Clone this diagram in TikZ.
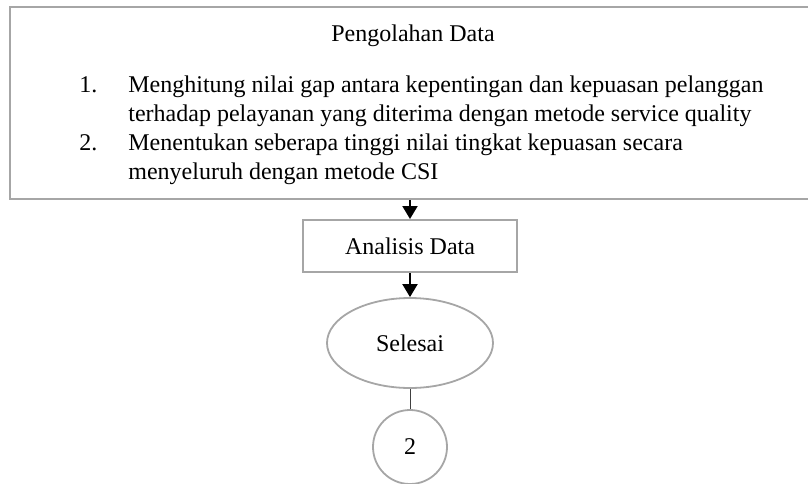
\documentclass[tikz,border=0pt]{standalone}
\usepackage{fontspec}
\setmainfont{Liberation Serif}
\usetikzlibrary{arrows.meta,shapes.geometric}
\definecolor{boxgray}{HTML}{A6A6A6}
\definecolor{linegray}{HTML}{404040}
\begin{document}
\begin{tikzpicture}[x=0.5pt,y=-0.5pt,
  every node/.style={font=\fontsize{12pt}{14.5pt}\selectfont},
  gbox/.style={draw=boxgray, line width=1pt, rectangle, inner sep=0pt},
  txt/.style={inner sep=0pt, anchor=base west},
  arr/.style={draw=black, line width=1pt, -{Triangle[length=6.5pt,width=7.5pt]}},
]
\useasboundingbox (0,0) rectangle (808,483);
\clip (0,0) rectangle (808,483);
% top process box (right side runs off the page)
\node[gbox, minimum width=410pt, minimum height=96pt] (proc) at (420,103) {};
\node[inner sep=0pt, anchor=base] (head) at (413,41) {Pengolahan Data};
\node[txt] (n1) at (79,92) {1.};
\node[txt] (l1) at (128,92) {Menghitung nilai gap antara kepentingan dan kepuasan pelanggan};
\node[txt] (l2) at (128,121) {terhadap pelayanan yang diterima dengan metode service quality};
\node[txt] (n2) at (79,150) {2.};
\node[txt] (l3) at (128,150) {Menentukan seberapa tinggi nilai tingkat kepuasan secara};
\node[txt] (l4) at (128,179) {menyeluruh dengan metode CSI};
% analysis box
\node[gbox, minimum width=107pt, minimum height=26pt] (ana) at (410,246) {Analisis Data};
% end ellipse
\node[draw=boxgray, line width=0.9pt, ellipse, minimum width=83pt, minimum height=45pt, inner sep=0pt] (end) at (410,343) {Selesai};
% connector circle
\node[draw=boxgray, line width=0.9pt, circle, minimum size=37pt, inner sep=0pt] (c2) at (410,447) {2};
% connectors
\draw[arr] (ana.north |- proc.south) -- (ana.north);
\draw[arr] (ana.south) -- (end.north);
\draw[draw=linegray, line width=0.5pt] (end.south) -- (c2.north);
\end{tikzpicture}
\end{document}
